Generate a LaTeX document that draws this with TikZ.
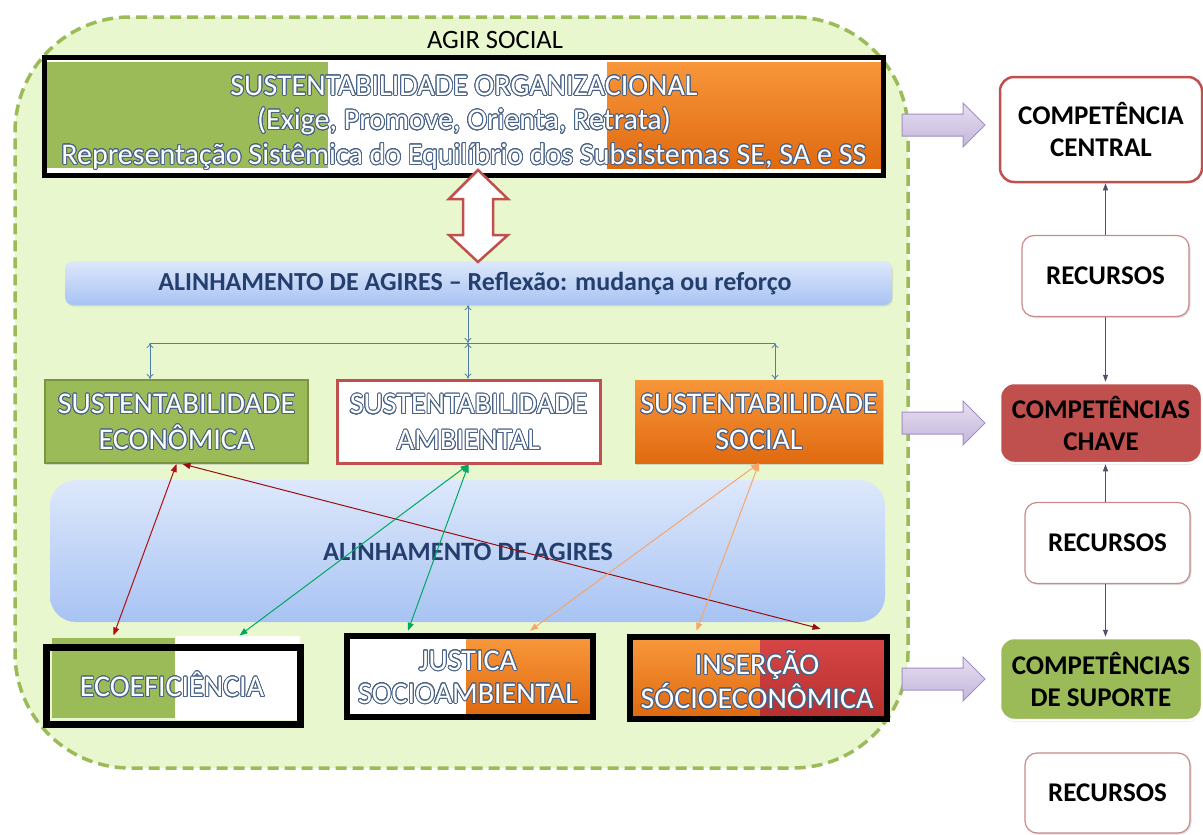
\documentclass[tikz,border=0pt]{standalone}
\usepackage{fontspec}
\setmainfont{Carlito}
\usepackage{contour}
\contourlength{0.9pt}
\contournumber{24}
\usetikzlibrary{arrows.meta,calc,shadows}
\definecolor{regfill}{HTML}{E9F7CF}
\definecolor{regline}{HTML}{9BBB59}
\definecolor{ogreen}{HTML}{9BBB59}
\definecolor{dgreen}{HTML}{7A9442}
\definecolor{orangeT}{HTML}{F8963A}
\definecolor{orangeB}{HTML}{E06A10}
\definecolor{rred}{HTML}{C0504D}
\definecolor{redT}{HTML}{D64545}
\definecolor{redB}{HTML}{B83030}
\definecolor{wablue}{HTML}{4A6388}
\definecolor{navy}{HTML}{243F6E}
\definecolor{barT}{HTML}{DDE8FB}
\definecolor{barB}{HTML}{A8C3F3}
\definecolor{steel}{HTML}{4F7FA8}
\definecolor{lavT}{HTML}{E6DFF1}
\definecolor{lavB}{HTML}{C4B6DB}
\definecolor{lavD}{HTML}{A08FC2}
\definecolor{darkred}{HTML}{B01010}
\definecolor{lgreen}{HTML}{00A860}
\definecolor{lorange}{HTML}{F6A66A}
\definecolor{slate}{HTML}{4C5366}
\definecolor{recline}{HTML}{C98A8A}
\newcommand\wa[1]{\contour{wablue}{#1}}
\begin{document}
\begin{tikzpicture}[x=1pt,y=-1pt,
  region/.style={draw=regline, fill=regfill, line width=3.5pt, dash pattern=on 11pt off 6pt, rounded corners=115pt, inner sep=0pt},
  wabox/.style={align=center, text=white, inner sep=0pt, font=\fontsize{30}{36}\selectfont},
  frame/.style={draw=black, line width=6.5pt, inner sep=0pt},
  blk/.style={align=center, text=black, font=\bfseries\fontsize{27}{32}\selectfont},
  bluetext/.style={text=navy, font=\bfseries\fontsize{26}{30}\selectfont},
  barr/.style={draw=steel, line width=0.8pt, {To[length=5pt,width=7pt]}-{To[length=5pt,width=7pt]}},
  carr/.style={line width=1pt, {Triangle[length=8pt,width=6pt]}-{Triangle[length=8pt,width=6pt]}},
  rarr/.style={draw=slate, line width=1pt, -{Triangle[length=7pt,width=5pt]}},
  parr/.style={draw=lavD, line width=1pt, top color=lavT, bottom color=lavB},
  dbl/.style={draw=rred, fill=white, line width=2.5pt, line join=miter},
  recbox/.style={draw=recline, fill=white, line width=1.2pt, rounded corners=12pt, minimum width=167pt, minimum height=81pt, drop shadow={shadow xshift=1.5pt, shadow yshift=-1.5pt, opacity=0.25}},
  compbox/.style={rounded corners=14pt, minimum width=202pt, inner sep=0pt}
]
\useasboundingbox (0,0) rectangle (1203,835);

% ---------- big region ----------
\node[region, minimum width=893pt, minimum height=751pt] (agir) at (461.5,392.5) {};
\node[font=\fontsize{26.5}{30}\selectfont, text=black] (agirlbl) at (495,40) {AGIR SOCIAL};

% ---------- top box ----------
\fill[white] (47,60) rectangle (881,173);
\fill[ogreen] (47,62) rectangle (328,168);
\shade[top color=orangeT, bottom color=orangeB] (607,62) rectangle (881,168);
\node[draw=black, line width=5pt, minimum width=839pt, minimum height=118pt, inner sep=0pt] (org) at (464,116.5) {};
\node[wabox, font=\fontsize{30}{34.5}\selectfont] (orgtxt) at (464,123) {\wa{SUSTENTABILIDADE ORGANIZACIONAL}\\\wa{(Exige, Promove, Orienta, Retrata)}\\\wa{Representação Sistêmica do Equilíbrio dos Subsistemas SE, SA e SS}};

% ---------- alignment bar ----------
\node[rounded corners=8pt, top color=barT, bottom color=barB, minimum width=827pt, minimum height=44pt, inner sep=0pt, drop shadow={shadow xshift=1pt, shadow yshift=-1.5pt, opacity=0.2}] (bar1) at (478.5,283) {};
\node[bluetext] (bar1txt) at (475,284) {ALINHAMENTO DE AGIRES -- Reflexão: mudança ou reforço};

% double block arrow between org and bar1
\coordinate (datop) at ($(org.south)+(14,-8)$);
\draw[dbl] (datop) -- ++(30,29) -- ++(-15,0) -- ++(0,36) -- ++(15,0) -- ++(-30,27) -- ++(-29,-27) -- ++(14,0) -- ++(0,-36) -- ++(-14,0) -- cycle;

% ---------- three sustainability boxes ----------
\node[draw=dgreen, fill=ogreen, line width=2pt, minimum width=263pt, minimum height=83pt, inner sep=0pt, drop shadow={shadow xshift=1pt, shadow yshift=-1.5pt, opacity=0.25}] (econ) at (176.5,421.5) {};
\node[wabox] at ($(econ)+(0,1)$) {\wa{SUSTENTABILIDADE}\\\wa{ECONÔMICA}};
\node[draw=rred, fill=white, line width=3pt, minimum width=263pt, minimum height=83pt, inner sep=0pt] (amb) at (468.5,421.5) {};
\node[wabox] at ($(amb)+(0,1)$) {\wa{SUSTENTABILIDADE}\\\wa{AMBIENTAL}};
\node[top color=orangeT, bottom color=orangeB, minimum width=248pt, minimum height=83pt, inner sep=0pt, drop shadow={shadow xshift=1pt, shadow yshift=-1.5pt, opacity=0.25}] (soc) at (759,421.5) {};
\node[wabox] at ($(soc)+(0,1)$) {\wa{SUSTENTABILIDADE}\\\wa{SOCIAL}};

% small connector tree
\coordinate (hj) at (468,343);
\coordinate (h1) at (150,343);
\coordinate (h3) at (775,343);
\draw[steel, line width=0.8pt] (h1) -- (h3);
\draw[barr] (bar1.south -| hj) -- (hj);
\draw[barr] (hj) -- (hj |- amb.north);
\draw[barr] (h1) -- (h1 |- econ.north);
\draw[barr] (h3) -- (h3 |- soc.north);

% ---------- big alignment box ----------
\node[rounded corners=26pt, top color=barT, bottom color=barB, minimum width=835pt, minimum height=142pt, inner sep=0pt] (bar2) at (467.5,551) {};
\node[bluetext, font=\bfseries\fontsize{26.5}{30}\selectfont] (bar2txt) at (468,552) {ALINHAMENTO DE AGIRES};

% ---------- bottom boxes ----------
% Ecoeficiencia
\fill[ogreen] (52,638) rectangle (175,718);
\fill[white] (175,636) rectangle (300,720);
\node[frame, line width=7pt, minimum width=254pt, minimum height=77pt] (ecoef) at (173.5,685.5) {};
\node[wabox] at (172,685) {\wa{ECOEFICIÊNCIA}};
% Justica
\fill[white] (350,639) rectangle (466,714);
\shade[top color=orangeT, bottom color=orangeB] (466,639) rectangle (590,714);
\node[frame, minimum width=246pt, minimum height=81pt] (just) at (470,676.5) {};
\node[wabox, font=\fontsize{30}{33}\selectfont] at (468,677.5) {\wa{JUSTICA}\\\wa{SOCIOAMBIENTAL}};
% Insercao
\shade[top color=orangeT, bottom color=orangeB] (633,640) rectangle (760,716);
\shade[top color=redT, bottom color=redB] (760,640) rectangle (884,716);
\node[frame, minimum width=257pt, minimum height=82pt] (inser) at (758.5,678) {};
\node[wabox, font=\fontsize{30}{34}\selectfont] at (757,680) {\wa{INSERÇÃO}\\\wa{SÓCIOECONÔMICA}};

% ---------- colored cross connectors ----------
\draw[carr, darkred] (econ.south) -- ([shift={(-60,-8)}]ecoef.north);
\draw[carr, darkred!85!black] ([xshift=6]econ.south) -- ([shift={(62,-5)}]inser.north);
\draw[carr, lgreen] (amb.south) -- ([shift={(66,-8)}]ecoef.north);
\draw[carr, lgreen] (amb.south) -- ([shift={(-62,-2)}]just.north);
\draw[carr, lorange] (soc.south) -- ([shift={(60,-2)}]just.north);
\draw[carr, lorange] (soc.south) -- ([shift={(-62,-3)}]inser.north);

% ---------- right column ----------
\node[compbox, blk, draw=rred, fill=white, line width=2.5pt, minimum height=105pt] (central) at (1101,129.5) {COMPETÊNCIA\\CENTRAL};
\node[recbox, blk] (rec1) at (1105.5,276) {RECURSOS};
\node[compbox, blk, draw=white, fill=rred, line width=2.5pt, minimum height=80pt, drop shadow={shadow xshift=0pt, shadow yshift=-1.5pt, opacity=0.35}] (chave) at (1101,423) {COMPETÊNCIAS\\CHAVE};
\node[recbox, blk, minimum width=165pt] (rec2) at (1107.5,543) {RECURSOS};
\node[compbox, blk, draw=white, fill=ogreen, line width=2.5pt, minimum height=82pt, drop shadow={shadow xshift=0pt, shadow yshift=-1.5pt, opacity=0.35}] (suporte) at (1101,679) {COMPETÊNCIAS\\DE SUPORTE};
\node[recbox, blk, minimum width=165pt, minimum height=80pt] (rec3) at (1107.5,793) {RECURSOS};

\draw[rarr] (rec1.north) -- (rec1.north |- central.south);
\draw[rarr] (rec1.south) -- (rec1.south |- chave.north);
\draw[rarr] (rec2.north -| rec1.north) -- (rec1.north |- chave.south);
\draw[rarr] (rec2.south -| rec1.north) -- (rec1.north |- suporte.north);

% ---------- purple block arrows ----------
\coordinate (pa1) at (902,125);
\coordinate (pa2) at (902,423);
\coordinate (pa3) at (902,679);
\foreach \p in {pa1,pa2,pa3}{
  \shadedraw[parr] ($(\p)+(0,-11)$) -- ++(61,0) -- ++(0,-11) -- ++(22,22) -- ++(-22,22) -- ++(0,-11) -- ++(-61,0) -- cycle;
}
\end{tikzpicture}
\end{document}
